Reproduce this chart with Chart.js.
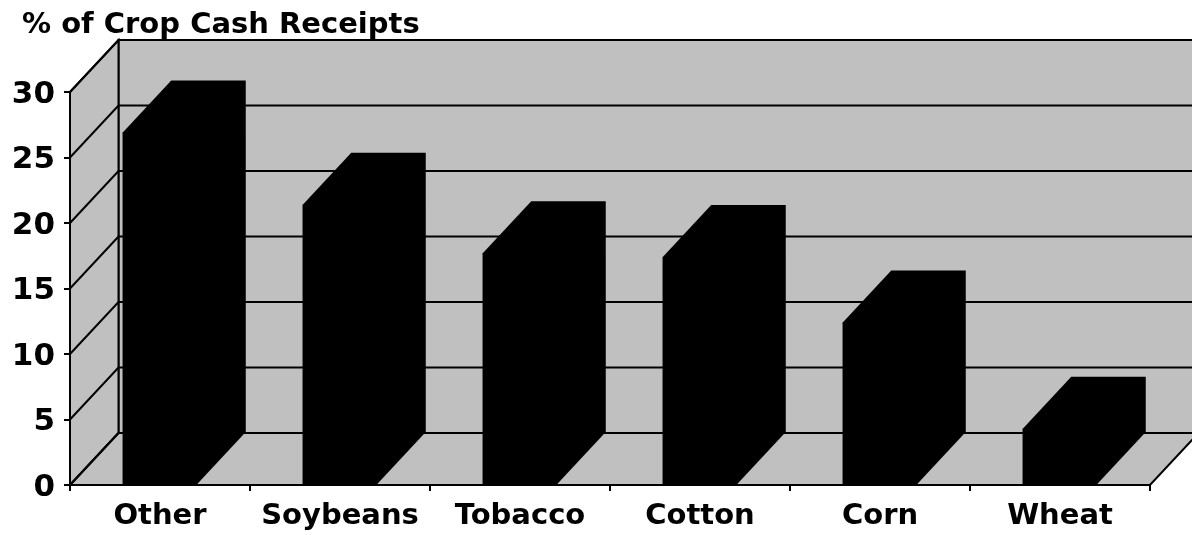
<!DOCTYPE html>
<html>
<head>
<meta charset="utf-8">
<style>html,body{margin:0;padding:0;background:#fff}canvas{display:block}</style>
<script src="https://cdn.jsdelivr.net/npm/chart.js@4"></script>
</head>
<body>
<canvas id="c" width="1192" height="535"></canvas>
<script>
const categories = ['Other', 'Soybeans', 'Tobacco', 'Cotton', 'Corn', 'Wheat'];
const cropShare = [26.9, 21.4, 17.7, 17.4, 12.4, 4.3];
const axisTitle = '% of Crop Cash Receipts';
const fontFamily = '"DejaVu Sans", Verdana, sans-serif';

// Oblique offset between the front plane and the back wall.
const DEPTH_X = 48.5;
const DEPTH_Y = 52;
const WALL = '#c0c0c0';

function polygon(ctx, pts, fill, stroke) {
  ctx.beginPath();
  pts.forEach((p, i) => i ? ctx.lineTo(p[0], p[1]) : ctx.moveTo(p[0], p[1]));
  ctx.closePath();
  if (fill) { ctx.fillStyle = fill; ctx.fill(); }
  if (stroke) { ctx.strokeStyle = stroke; ctx.lineWidth = 2; ctx.stroke(); }
}

// Back wall, side wall, floor and the gridlines that wrap around them.
const box3d = {
  id: 'box3d',
  beforeDatasetsDraw(chart) {
    const { ctx, chartArea: a, scales: { y } } = chart;
    ctx.save();
    polygon(ctx, [[a.left + DEPTH_X, a.top - DEPTH_Y], [a.right + DEPTH_X, a.top - DEPTH_Y],
                  [a.right + DEPTH_X, a.bottom - DEPTH_Y], [a.left + DEPTH_X, a.bottom - DEPTH_Y]], WALL, '#000');
    polygon(ctx, [[a.left, a.top], [a.left + DEPTH_X, a.top - DEPTH_Y],
                  [a.left + DEPTH_X, a.bottom - DEPTH_Y], [a.left, a.bottom]], WALL, '#000');
    polygon(ctx, [[a.left, a.bottom], [a.right, a.bottom],
                  [a.right + DEPTH_X, a.bottom - DEPTH_Y], [a.left + DEPTH_X, a.bottom - DEPTH_Y]], WALL, '#000');
    ctx.strokeStyle = '#000';
    ctx.lineWidth = 2;
    y.ticks.forEach(t => {
      const py = y.getPixelForValue(t.value);
      ctx.beginPath();
      ctx.moveTo(a.left, py);
      ctx.lineTo(a.left + DEPTH_X, py - DEPTH_Y);
      ctx.lineTo(a.right + DEPTH_X, py - DEPTH_Y);
      ctx.stroke();
    });
    // Extruded silhouette of every bar, taken from the bar elements.
    chart.getDatasetMeta(0).data.forEach(bar => {
      const l = bar.x - bar.width / 2, r = bar.x + bar.width / 2;
      polygon(ctx, [[l, bar.y], [l + DEPTH_X, bar.y - DEPTH_Y], [r + DEPTH_X, bar.y - DEPTH_Y],
                    [r + DEPTH_X, bar.base - DEPTH_Y], [r, bar.base], [l, bar.base]], '#000');
    });
    ctx.restore();
  },
  afterDraw(chart) {
    const { ctx, scales: { y } } = chart;
    ctx.save();
    ctx.fillStyle = '#000';
    ctx.font = 'bold 29px ' + fontFamily;
    ctx.textBaseline = 'alphabetic';
    ctx.textAlign = 'left';
    ctx.fillText(axisTitle, 22, 33);
    // Value labels sit a little below their tick marks.
    ctx.font = 'bold 31px ' + fontFamily;
    ctx.textAlign = 'right';
    ctx.textBaseline = 'middle';
    y.ticks.forEach(t => ctx.fillText(t.label, 55, y.getPixelForValue(t.value) + 2.5));
    ctx.restore();
  }
};

new Chart(document.getElementById('c'), {
  type: 'bar',
  data: {
    labels: categories,
    datasets: [{
      label: axisTitle,
      data: cropShare,
      backgroundColor: '#000',
      borderWidth: 0,
      barPercentage: 0.414,
      categoryPercentage: 1
    }]
  },
  options: {
    responsive: false,
    animation: false,
    layout: { autoPadding: false, padding: { top: 92, right: 42, left: 0, bottom: 0 } },
    plugins: { legend: { display: false }, tooltip: { enabled: false }, title: { display: false } },
    scales: {
      x: {
        afterFit(s) { s.height = 50; },
        border: { color: '#000', width: 2 },
        grid: { drawOnChartArea: false, drawTicks: true, tickLength: 6, color: '#000', lineWidth: 2, offset: true },
        ticks: { color: '#000', padding: 8, maxRotation: 0, font: { family: fontFamily, weight: 'bold', size: 29 } }
      },
      y: {
        min: 0,
        max: 30,
        afterFit(s) { s.width = 70; },
        border: { color: '#000', width: 2 },
        grid: { drawOnChartArea: false, drawTicks: true, tickLength: 6, color: '#000', lineWidth: 2 },
        ticks: { display: false, stepSize: 5 }
      }
    }
  },
  plugins: [box3d]
});
</script>
</body>
</html>
